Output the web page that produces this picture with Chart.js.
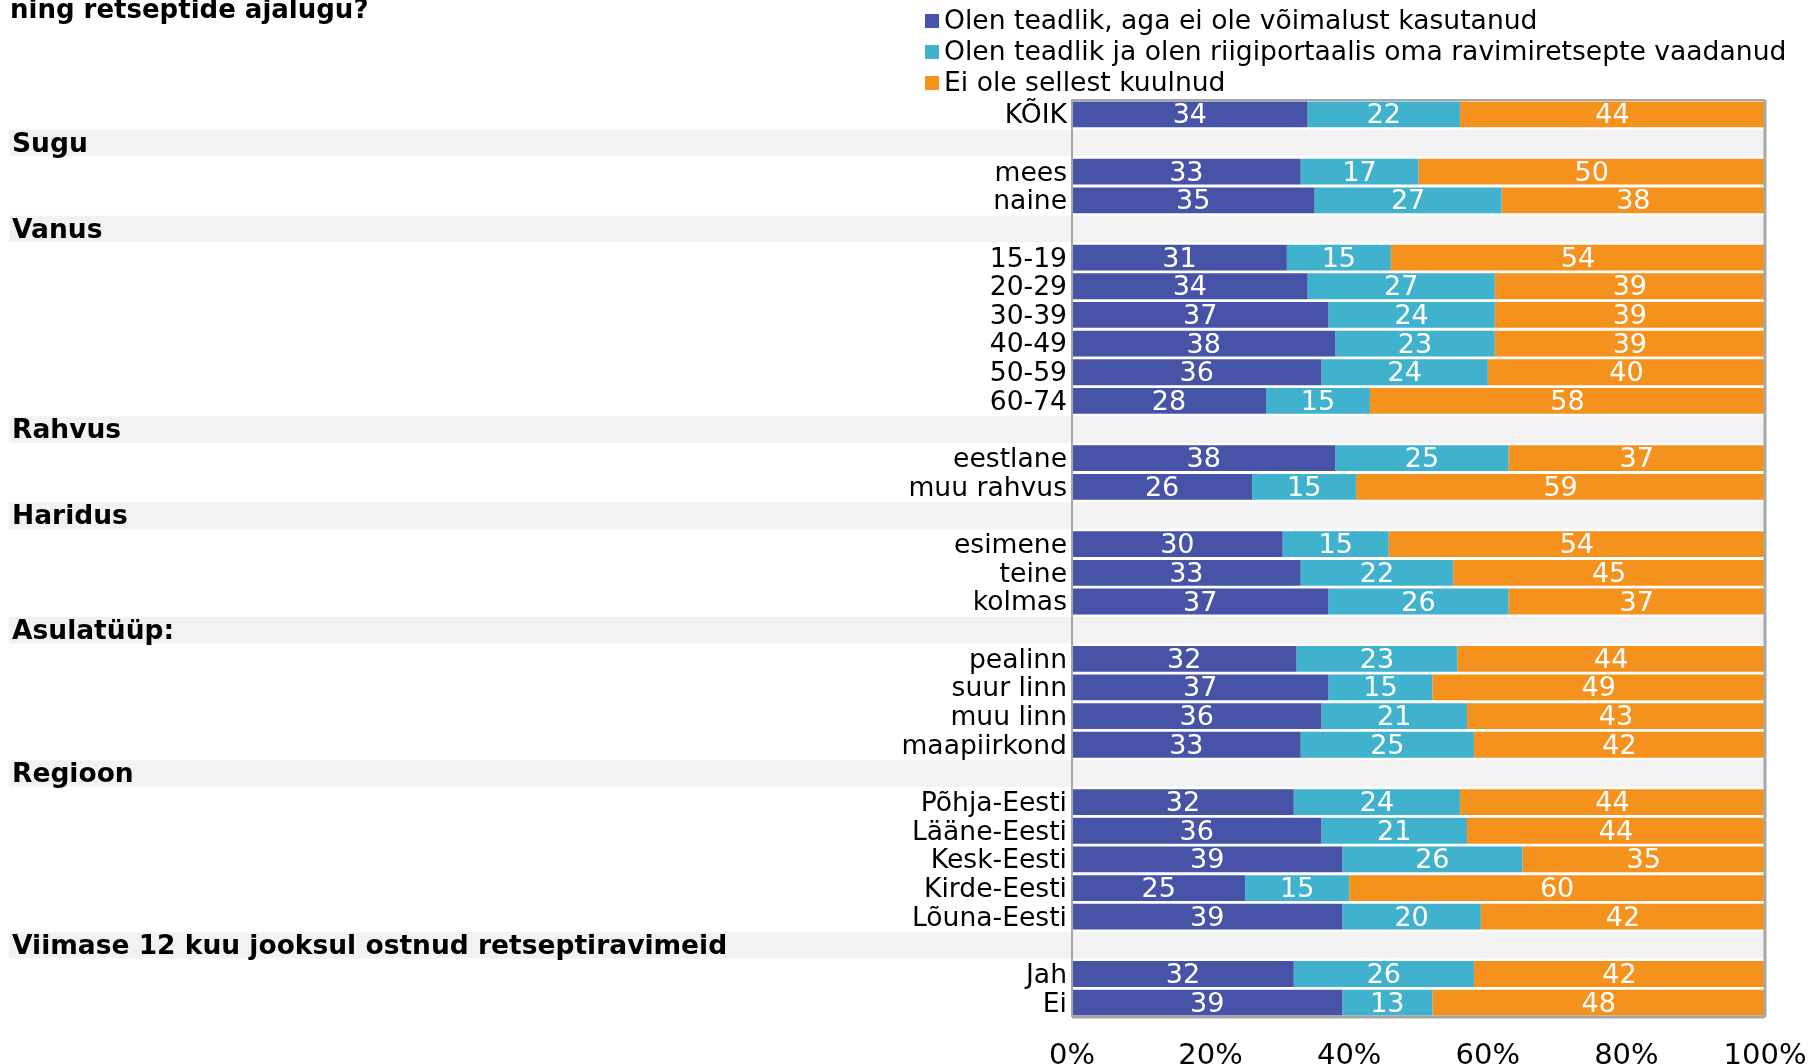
<!DOCTYPE html>
<html>
<head>
<meta charset="utf-8">
<script src="https://cdn.jsdelivr.net/npm/chart.js@4.4.1/dist/chart.umd.min.js"></script>
<style>
  html, body { margin: 0; padding: 0; background: #fff; }
</style>
</head>
<body>
<canvas id="chart" width="1808" height="1064"></canvas>
<script>
// ── Data ──
const TITLE = 'ning retseptide ajalugu?';
const categories = [
  'KÕIK',
  'Sugu', 'mees', 'naine',
  'Vanus', '15-19', '20-29', '30-39', '40-49', '50-59', '60-74',
  'Rahvus', 'eestlane', 'muu rahvus',
  'Haridus', 'esimene', 'teine', 'kolmas',
  'Asulatüüp:', 'pealinn', 'suur linn', 'muu linn', 'maapiirkond',
  'Regioon', 'Põhja-Eesti', 'Lääne-Eesti', 'Kesk-Eesti', 'Kirde-Eesti', 'Lõuna-Eesti',
  'Viimase 12 kuu jooksul ostnud retseptiravimeid', 'Jah', 'Ei'
];
const headers = ['Sugu', 'Vanus', 'Rahvus', 'Haridus', 'Asulatüüp:', 'Regioon',
  'Viimase 12 kuu jooksul ostnud retseptiravimeid'];
const seriesNames = [
  'Olen teadlik, aga ei ole võimalust kasutanud',
  'Olen teadlik ja olen riigiportaalis oma ravimiretsepte vaadanud',
  'Ei ole sellest kuulnud'
];
const aware    = [34, null, 33, 35, null, 31, 34, 37, 38, 36, 28, null, 38, 26, null, 30.4, 33, 37, null, 32.4, 37, 36, 33, null, 32, 36, 39, 25, 39, null, 32, 39];
const viewed   = [22, null, 17, 27, null, 15, 27, 24, 23, 24, 15, null, 25, 15, null, 15.3, 22, 26, null, 23.2, 15, 21, 25, null, 24, 21, 26, 15, 20, null, 26, 13];
const notHeard = [44, null, 50, 38, null, 54, 39, 39, 39, 40, 58, null, 37, 59, null, 54.3, 45, 37, null, 44.4, 49, 43, 42, null, 44, 44, 35, 60, 42, null, 42, 48];
const xTicks = [0, 20, 40, 60, 80, 100];

const colors = ['#4753a6', '#40b2ce', '#f5921e'];
const FONT = '"DejaVu Sans", Verdana, sans-serif';
const isHeader = i => headers.includes(categories[i]);

Chart.defaults.font.family = FONT;
Chart.defaults.font.size = 26.6;
Chart.defaults.color = '#000';

// ── Header bands (drawn first, under everything) ──
const bandPlugin = {
  id: 'bands',
  beforeDraw(chart) {
    const { ctx, chartArea, scales: { y } } = chart;
    const step = Math.abs(y.getPixelForValue(1) - y.getPixelForValue(0));
    ctx.save();
    ctx.fillStyle = '#f2f2f2';
    categories.forEach((c, i) => {
      if (!isHeader(i)) return;
      const cy = y.getPixelForValue(i);
      ctx.fillRect(9, cy - step * 0.46, chartArea.right - 9, step * 0.92);
    });
    ctx.restore();
  }
};

// ── Value labels, headers, title, legend, frame ──
const decorPlugin = {
  id: 'decor',
  afterDatasetsDraw(chart) {
    const { ctx } = chart;
    ctx.save();
    ctx.font = '27px ' + FONT;
    ctx.fillStyle = '#fff';
    ctx.textAlign = 'center';
    ctx.textBaseline = 'middle';
    chart.data.datasets.forEach((ds, di) => {
      chart.getDatasetMeta(di).data.forEach((el, i) => {
        const v = ds.data[i];
        if (v == null) return;
        const right = Math.min(el.x, chart.chartArea.right);
        ctx.fillText(Math.round(v), (right + el.base) / 2, el.y + 2);
      });
    });
    ctx.restore();
  },
  afterDraw(chart) {
    const { ctx, chartArea, scales: { y } } = chart;
    ctx.save();
    // frame
    ctx.strokeStyle = '#a6a6a6';
    ctx.lineWidth = 2;
    ctx.beginPath();
    ctx.moveTo(chartArea.left, chartArea.bottom);
    ctx.lineTo(chartArea.left, chartArea.top);
    ctx.lineTo(chartArea.right, chartArea.top);
    ctx.stroke();
    ctx.lineWidth = 3;
    ctx.beginPath();
    ctx.moveTo(chartArea.right, chartArea.top);
    ctx.lineTo(chartArea.right, chartArea.bottom);
    ctx.moveTo(chartArea.left, chartArea.bottom);
    ctx.lineTo(chartArea.right, chartArea.bottom);
    ctx.stroke();

    // group headers
    ctx.fillStyle = '#000';
    ctx.textAlign = 'left';
    ctx.textBaseline = 'middle';
    ctx.font = 'bold 26.5px ' + FONT;
    categories.forEach((c, i) => {
      if (isHeader(i)) ctx.fillText(c, 12, y.getPixelForValue(i) + 2);
    });

    // title (second line of a cut-off title)
    ctx.font = 'bold 26px ' + FONT;
    ctx.textBaseline = 'alphabetic';
    ctx.fillText(TITLE, 10, 18);

    // legend
    ctx.font = '26.6px ' + FONT;
    ctx.textBaseline = 'middle';
    const legendY = [21, 52, 83];
    chart.data.datasets.forEach((ds, di) => {
      ctx.fillStyle = ds.backgroundColor;
      ctx.fillRect(925, legendY[di] - 7, 14, 14);
      ctx.fillStyle = '#000';
      ctx.fillText(ds.label, 944, legendY[di] + 1);
    });
    ctx.restore();
  }
};

new Chart(document.getElementById('chart'), {
  type: 'bar',
  data: {
    labels: categories,
    datasets: [
      { label: seriesNames[0], data: aware, backgroundColor: colors[0] },
      { label: seriesNames[1], data: viewed, backgroundColor: colors[1] },
      { label: seriesNames[2], data: notHeard, backgroundColor: colors[2] }
    ].map(d => ({ ...d, barPercentage: 0.9, categoryPercentage: 1.0, borderWidth: 0 }))
  },
  options: {
    indexAxis: 'y',
    responsive: false,
    animation: false,
    layout: { padding: { top: 100, right: 43, bottom: 0, left: 0 } },
    plugins: {
      legend: { display: false },
      title: { display: false },
      tooltip: { enabled: false }
    },
    scales: {
      x: {
        stacked: true,
        min: 0,
        max: 100,
        grid: { display: false, drawTicks: false },
        border: { display: false },
        afterBuildTicks: scale => { scale.ticks = xTicks.map(v => ({ value: v })); },
        afterFit: scale => {
          scale.height = 47;
          scale.paddingLeft = 0;
          scale.paddingRight = 0;
        },
        ticks: { padding: 22, maxRotation: 0, font: { size: 29 }, callback: v => v + '%', color: '#000' }
      },
      y: {
        stacked: true,
        grid: { display: false, drawTicks: false },
        border: { display: false },
        afterFit: scale => {
          scale.width = 1072;
          scale.paddingTop = 0;
          scale.paddingBottom = 0;
        },
        ticks: {
          autoSkip: false,
          padding: 5,
          labelOffset: 2,
          color: '#000',
          callback: (v, i) => isHeader(i) ? '' : categories[i]
        }
      }
    }
  },
  plugins: [bandPlugin, decorPlugin]
});
</script>
</body>
</html>
